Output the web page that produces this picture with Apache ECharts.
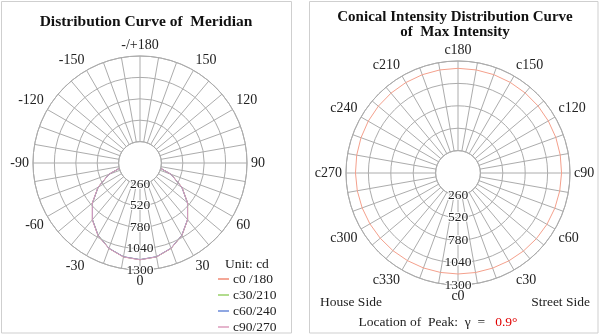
<!DOCTYPE html>
<html>
<head>
<meta charset="utf-8">
<script src="https://cdn.jsdelivr.net/npm/echarts@6/dist/echarts.min.js"></script>
<style>
html,body{margin:0;padding:0;background:#fff;}
#chart{width:600px;height:336px;}
</style>
</head>
<body>
<div id="chart"></div>
<script>
// ---- Data ----
// Left: meridian distribution (gamma angles, intensity in cd). Negative gamma = opposite half-plane.
var gammaAngles = [-90,-80,-70,-60,-50,-40,-30,-20,-10,0,10,20,30,40,50,60,70,80,90];
var c0_180  = [0,205,402,588,755,900,1018,1104,1158,1175,1157,1103,1016,899,754,587,401,204,0];
var c30_210 = [0,203,400,586,753,898,1016,1103,1157,1174,1158,1104,1017,900,756,589,403,205,0];
var c60_240 = [0,204,401,587,754,899,1017,1103,1156,1173,1156,1102,1015,898,753,586,400,203,0];
var c90_270 = [0,206,403,589,756,901,1019,1105,1159,1176,1158,1104,1017,900,755,588,402,205,0];
var meridianNames = ['c0 /180','c30/210','c60/240','c90/270'];
var meridianColors = ['#f08a74','#98d068','#6a8ad8','#dc9cbc'];

// Right: conical curve at gamma = 0.9 deg (C angles, intensity in cd)
var cAngles = [0,10,20,30,40,50,60,70,80,90,100,110,120,130,140,150,160,170,180,
               190,200,210,220,230,240,250,260,270,280,290,300,310,320,330,340,350,360];
var conical = [1172,1173,1175,1178,1182,1187,1192,1196,1199,1202,1205,1208,1210,1212,1213,1214,1215,1215,1215,
               1215,1214,1212,1210,1207,1203,1198,1194,1190,1187,1184,1181,1178,1176,1174,1173,1172,1172];

// Axis ticks
var radialMin = 260, radialMax = 1300, radialStep = 260;
var angleStep = 10, angleLabelStep = 30;
var peakText = '0.9°';

// ---- Chart ----
var FONT = '"Liberation Serif", "Times New Roman", serif';
var GRID = '#acacac';
var chart = echarts.init(document.getElementById('chart'), null, {renderer:'canvas'});

function angleAxisCfg(idx, fmt) {
  return {
    polarIndex: idx, type: 'value', min: 0, max: 360, interval: angleStep,
    startAngle: 270, clockwise: false,
    axisLine: {show: true, lineStyle: {color: GRID, width: 1}},
    axisTick: {show: false},
    splitLine: {show: true, lineStyle: {color: GRID, width: 1}},
    axisLabel: {
      margin: 4, fontFamily: FONT, fontSize: 14, color: '#222',
      formatter: function (v) {
        if (v % angleLabelStep !== 0 || v === 360) return '';
        return fmt(v);
      }
    }
  };
}
function radiusAxisCfg(idx) {
  return {
    polarIndex: idx, type: 'value', min: radialMin, max: radialMax, interval: radialStep, z: 5,
    axisLine: {show: false}, axisTick: {show: false},
    splitLine: {show: true, lineStyle: {color: GRID, width: 1}},
    axisLabel: {
      margin: 0, align: 'center', verticalAlign: 'middle', padding: [0,0,8,0],
      fontFamily: FONT, fontSize: 13.5, color: '#222',
      textBorderColor: '#fff', textBorderWidth: 2,
      formatter: function (v) { return String(v); }
    }
  };
}

var series = [];
[c0_180, c30_210, c60_240, c90_270].forEach(function (vals, i) {
  series.push({
    name: meridianNames[i], type: 'line', coordinateSystem: 'polar', polarIndex: 0,
    clip: false, symbol: 'none', smooth: false, z: 3,
    lineStyle: {color: meridianColors[i], width: 1},
    itemStyle: {color: meridianColors[i]},
    data: gammaAngles.map(function (g, k) { return [vals[k], g < 0 ? g + 360 : g]; })
  });
});
series.push({
  name: 'conical', type: 'line', coordinateSystem: 'polar', polarIndex: 1,
  clip: false, symbol: 'none', z: 3,
  lineStyle: {color: '#f4a08c', width: 1},
  data: cAngles.map(function (c, k) { return [conical[k], c]; })
});

var option = {
  animation: false,
  backgroundColor: '#fff',
  polar: [
    {center: [140, 163], radius: [21.4, 107]},
    {center: [458, 173], radius: [22.4, 112]}
  ],
  angleAxis: [
    angleAxisCfg(0, function (v) { return v === 180 ? '-/+180' : (v > 180 ? String(v - 360) : String(v)); }),
    angleAxisCfg(1, function (v) { return 'c' + v; })
  ],
  radiusAxis: [radiusAxisCfg(0), radiusAxisCfg(1)],
  legend: {
    data: meridianNames, orient: 'vertical', left: 218, top: 272, padding: 0,
    icon: 'rect', itemWidth: 11, itemHeight: 1.5, itemGap: 2,
    textStyle: {fontFamily: FONT, fontSize: 13.5, color: '#222', lineHeight: 13, padding: [0,0,0,-1]}
  },
  graphic: [
    {type: 'rect', shape: {x: 1.5, y: 1.5, width: 290, height: 331.5}, style: {fill: 'none', stroke: '#cfcfcf', lineWidth: 1}},
    {type: 'rect', shape: {x: 309.5, y: 1.5, width: 288.5, height: 331.5}, style: {fill: 'none', stroke: '#cfcfcf', lineWidth: 1}},
    {type: 'text', x: 146, y: 22, style: {text: 'Distribution Curve of  Meridian', font: 'bold 15.5px ' + FONT, fill: '#111', textAlign: 'center', textVerticalAlign: 'middle'}},
    {type: 'text', x: 455, y: 25, style: {text: 'Conical Intensity Distribution Curve\nof  Max Intensity', font: 'bold 15px ' + FONT, lineHeight: 15, fill: '#111', textAlign: 'center', textVerticalAlign: 'middle'}},
    {type: 'text', x: 225, y: 264, style: {text: 'Unit: cd', font: '13.5px ' + FONT, fill: '#222', textAlign: 'left', textVerticalAlign: 'middle'}},
    {type: 'text', x: 320, y: 302, style: {text: 'House Side', font: '13.5px ' + FONT, fill: '#222', textAlign: 'left', textVerticalAlign: 'middle'}},
    {type: 'text', x: 590, y: 302, style: {text: 'Street Side', font: '13.5px ' + FONT, fill: '#222', textAlign: 'right', textVerticalAlign: 'middle'}},
    {type: 'text', x: 438, y: 322, style: {
      text: '{a|Location of  Peak:  γ  =   }{b|' + peakText + '}',
      textAlign: 'center', textVerticalAlign: 'middle',
      rich: {a: {font: '13.5px ' + FONT, fill: '#222'}, b: {font: '13.5px ' + FONT, fill: '#e00000'}}
    }}
  ],
  series: series
};
chart.setOption(option);
</script>
</body>
</html>
